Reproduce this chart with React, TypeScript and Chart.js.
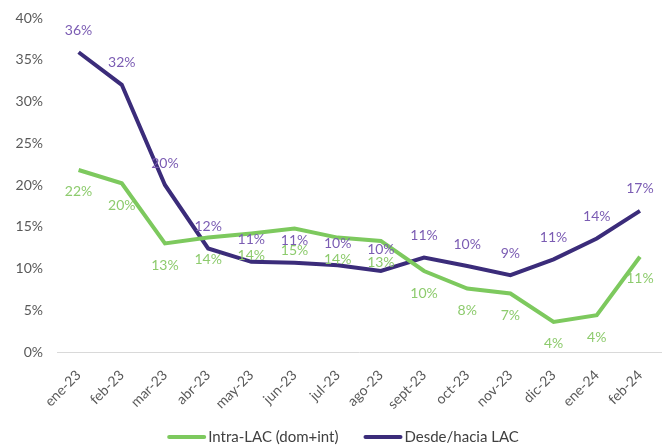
import React, { useEffect, useRef } from "react";
import { Chart, registerables } from "chart.js";

Chart.register(...registerables);

const categories = ["ene-23", "feb-23", "mar-23", "abr-23", "may-23", "jun-23", "jul-23", "ago-23", "sept-23", "oct-23", "nov-23", "dic-23", "ene-24", "feb-24"];
const intraLAC = [21.8, 20.2, 13.0, 13.7, 14.2, 14.8, 13.7, 13.3, 9.7, 7.6, 7.0, 3.6, 4.4, 11.4];
const desdeHaciaLAC = [35.9, 32.0, 20.0, 12.4, 10.8, 10.7, 10.4, 9.7, 11.3, 10.3, 9.2, 11.1, 13.6, 16.9];
const seriesNames = ["Intra-LAC (dom+int)", "Desde/hacia LAC"];

const GREEN = "#7DC95E";
const GREEN_LABEL = "#8DCB6D";
const PURPLE = "#3B2C7A";
const PURPLE_LABEL = "#7B5CB3";
const FONT = "Lato";

const labelPlugin = {
  id: "valueLabels",
  afterDatasetsDraw(chart: any) {
    const ctx = chart.ctx;
    ctx.save();
    ctx.font = `14px ${FONT}`;
    ctx.textAlign = "center";
    ctx.textBaseline = "middle";
    chart.data.datasets.forEach((ds: any, i: number) => {
      const meta = chart.getDatasetMeta(i);
      const above = i === 1;
      ctx.fillStyle = above ? PURPLE_LABEL : GREEN_LABEL;
      meta.data.forEach((pt: any, j: number) => {
        const v = ds.data[j];
        ctx.fillText(Math.round(v) + "%", pt.x, pt.y + (above ? -22 : 22));
      });
    });
    ctx.restore();
  },
};

const legendPlugin = {
  id: "customLegend",
  afterDraw(chart: any) {
    const ctx = chart.ctx;
    ctx.save();
    ctx.font = `15px ${FONT}`;
    ctx.textBaseline = "middle";
    const sw = 39;
    const gapText = 2;
    const gapItem = 25;
    const items = chart.data.datasets.map((ds: any) => ({
      label: ds.label,
      color: ds.borderColor,
      w: sw + gapText + ctx.measureText(ds.label).width,
    }));
    const total = items.reduce((a: number, it: any) => a + it.w, 0) + gapItem * (items.length - 1);
    let x = 343 - total / 2;
    const y = 437;
    items.forEach((it: any) => {
      ctx.strokeStyle = it.color;
      ctx.lineWidth = 4;
      ctx.lineCap = "round";
      ctx.beginPath();
      ctx.moveTo(x + 2, y);
      ctx.lineTo(x + sw - 2, y);
      ctx.stroke();
      ctx.fillStyle = "#404040";
      ctx.textAlign = "left";
      ctx.fillText(it.label, x + sw + gapText, y);
      x += it.w + gapItem;
    });
    ctx.restore();
  },
};

export default function App() {
  const ref = useRef<HTMLCanvasElement>(null);
  useEffect(() => {
    document.body.style.margin = "0";
    const chart = new Chart(ref.current!, {
      type: "line",
      data: {
        labels: categories,
        datasets: [
          { label: seriesNames[0], data: intraLAC, borderColor: GREEN, backgroundColor: GREEN, borderWidth: 4, pointRadius: 0, tension: 0 },
          { label: seriesNames[1], data: desdeHaciaLAC, borderColor: PURPLE, backgroundColor: PURPLE, borderWidth: 4, pointRadius: 0, tension: 0 },
        ],
      },
      options: {
        animation: false,
        responsive: false,
        layout: { padding: { top: 18, left: 0, right: 5, bottom: 20 } },
        plugins: {
          tooltip: { enabled: false },
          legend: { display: false },
        },
        scales: {
          x: {
            offset: true,
            grid: { display: false, drawTicks: false },
            border: { display: true, color: "#D9D9D9", width: 1 },
            ticks: { minRotation: 45, maxRotation: 45, autoSkip: false, padding: 15, color: "#595959", font: { family: FONT, size: 14 } },
            afterFit: (s: any) => { s.height = 75; },
          },
          y: {
            min: 0,
            max: 40,
            grid: { display: false, drawTicks: true, tickLength: 14 },
            border: { display: false },
            ticks: { stepSize: 5, padding: 0, color: "#595959", font: { family: FONT, size: 14 }, callback: (v: any) => v + "%" },
            afterFit: (s: any) => { s.width = 57; },
          },
        },
      },
      plugins: [labelPlugin, legendPlugin],
    });
    return () => chart.destroy();
  }, []);
  return (
    <div style={{ position: "fixed", left: 0, top: 0, width: 667, height: 447, background: "#fff" }}>
      <canvas ref={ref} width={667} height={447} style={{ width: 667, height: 447 }} />
    </div>
  );
}
